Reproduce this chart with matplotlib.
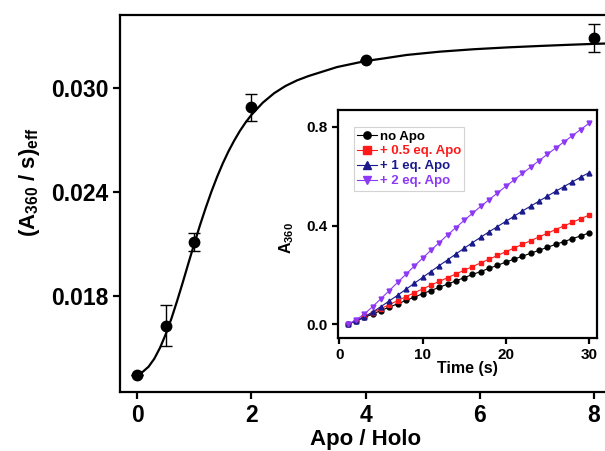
from __future__ import annotations

import matplotlib

matplotlib.use("Agg")
import matplotlib.pyplot as plt

# main panel: effective rate vs Apo/Holo ratio
ratio = [0, 0.5, 1, 2, 4, 8]
rate = [0.01342, 0.01627, 0.02109, 0.02889, 0.03162, 0.03288]
rate_err = [0, 0.0012, 0.00051, 0.00077, 0, 0.00081]

# fitted curve
fit_ratio = [0, 0.1, 0.2, 0.3, 0.4, 0.5, 0.6, 0.7, 0.8, 0.9, 1.0, 1.1, 1.2, 1.3,
             1.4, 1.5, 1.6, 1.7, 1.8, 1.9, 2.0, 2.2, 2.4, 2.6, 2.8, 3.0, 3.5,
             4.0, 4.3, 4.72, 5.3, 5.89, 6.5, 7.05, 7.5, 7.99, 8.3]
fit_rate = [0.01347, 0.0136, 0.01389, 0.01435, 0.01498, 0.01576, 0.01667,
            0.01769, 0.01877, 0.01989, 0.02099, 0.02206, 0.02306, 0.024,
            0.02486, 0.02564, 0.02634, 0.02696, 0.02752, 0.02801, 0.02844,
            0.02915, 0.0297, 0.03012, 0.03044, 0.03069, 0.03121, 0.03156,
            0.0317, 0.03191, 0.0321, 0.03224, 0.03235, 0.03243, 0.03249,
            0.03255, 0.03258]

# inset: A360 traces
time_s = list(range(1, 31))
no_apo = [0.000, 0.014, 0.028, 0.042, 0.056, 0.070, 0.083, 0.097, 0.110, 0.124,
          0.137, 0.150, 0.163, 0.176, 0.189, 0.202, 0.214, 0.227, 0.239, 0.252,
          0.264, 0.276, 0.288, 0.300, 0.312, 0.324, 0.335, 0.347, 0.358, 0.370]
half_eq = [0.000, 0.016, 0.032, 0.048, 0.064, 0.080, 0.096, 0.112, 0.128, 0.143,
           0.159, 0.174, 0.189, 0.204, 0.219, 0.234, 0.249, 0.264, 0.279, 0.294,
           0.309, 0.324, 0.339, 0.354, 0.369, 0.384, 0.399, 0.413, 0.428, 0.442]
one_eq = [0.000, 0.014, 0.030, 0.050, 0.072, 0.095, 0.118, 0.142, 0.166, 0.190,
          0.214, 0.238, 0.261, 0.285, 0.308, 0.331, 0.353, 0.375, 0.396, 0.417,
          0.438, 0.459, 0.479, 0.499, 0.519, 0.539, 0.558, 0.577, 0.596, 0.614]
two_eq = [0.000, 0.018, 0.042, 0.072, 0.104, 0.137, 0.170, 0.203, 0.236, 0.268,
          0.300, 0.331, 0.362, 0.392, 0.421, 0.450, 0.478, 0.505, 0.532, 0.559,
          0.585, 0.611, 0.637, 0.663, 0.689, 0.714, 0.739, 0.764, 0.789, 0.814]

series_labels = ["no Apo", "+ 0.5 eq. Apo", "+ 1 eq. Apo", "+ 2 eq. Apo"]
series_colors = ["#000000", "#ff1a1a", "#1a1a8c", "#8c38f5"]
series_markers = ["o", "s", "^", "v"]

plt.rcParams["font.family"] = ["Liberation Sans", "DejaVu Sans"]
plt.rcParams["font.weight"] = "bold"
plt.rcParams["mathtext.fontset"] = "custom"
plt.rcParams["mathtext.rm"] = "Liberation Sans:bold"
plt.rcParams["mathtext.it"] = "Liberation Sans:bold"
plt.rcParams["mathtext.bf"] = "Liberation Sans:bold"


def style_axes(ax, width: float, size: float, label_size: float) -> None:
    for spine in ax.spines.values():
        spine.set_linewidth(width)
    ax.tick_params(direction="out", width=width, length=size, labelsize=label_size)
    for lab in ax.get_xticklabels() + ax.get_yticklabels():
        lab.set_fontweight("bold")


fig = plt.figure(figsize=(6.05, 4.51), dpi=100)
ax = fig.add_axes([120 / 605, 1 - 392 / 451, 491 / 605, 377 / 451])
ax.plot(fit_ratio, fit_rate, color="black", lw=1.6, solid_joinstyle="round")
ax.errorbar(ratio, rate, yerr=rate_err, fmt="o", color="black", ms=7.5,
            elinewidth=1.0, capsize=4, capthick=1.0)
ax.set_xlim(-0.3, 8.3)
ax.set_ylim(0.01243, 0.03422)
ax.set_xticks([0, 2, 4, 6, 8])
ax.set_yticks([0.018, 0.024, 0.030])
ax.set_yticklabels(["0.018", "0.024", "0.030"])
style_axes(ax, 1.6, 5, 16.5)
ax.set_xlabel("Apo / Holo", fontsize=16, fontweight="bold")
ax.xaxis.set_label_coords(246 / 491, (392 - 440) / 377)
ax.xaxis.label.set_va("center")
ax.set_ylabel(r"(A$_{360}$ / s)$_{\rm eff}$", fontsize=16, fontweight="bold")
ax.yaxis.set_label_coords((30 - 120) / 491, (392 - 182) / 377)
ax.yaxis.label.set_va("center")

ins = fig.add_axes([338.3 / 605, 1 - 337.7 / 451, 258.4 / 605, 227.7 / 451])
for values, label, color, marker in zip(
    [no_apo, half_eq, one_eq, two_eq], series_labels, series_colors, series_markers
):
    ins.plot(time_s, values, color=color, marker=marker, ms=3.5, lw=0.8,
             mec=color, mfc=color, label=label)
ins.set_xlim(-0.13, 30.93)
ins.set_ylim(-0.054, 0.868)
ins.set_xticks([0, 10, 20, 30])
ins.set_yticks([0.0, 0.4, 0.8])
ins.set_yticklabels(["0.0", "0.4", "0.8"])
style_axes(ins, 1.6, 4, 11)
ins.set_xlabel("Time (s)", fontsize=11.5, fontweight="bold", labelpad=-1)
ins.set_ylabel(r"A$_{360}$", fontsize=11.5, fontweight="bold")
ins.yaxis.set_label_coords((287 - 338.3) / 258.4, (337.7 - 238) / 227.7)
ins.yaxis.label.set_va("center")

leg = ins.legend(loc="upper left", bbox_to_anchor=(0.06, 0.925), fontsize=9.5,
                 frameon=True, fancybox=False, borderpad=0.25, labelspacing=0.2,
                 handlelength=1.5, handletextpad=0.2, borderaxespad=0,
                 markerscale=1.5)
leg.get_frame().set_edgecolor("#c8c8c8")
leg.get_frame().set_linewidth(0.8)
for text, color in zip(leg.get_texts(), series_colors):
    text.set_color(color)
    text.set_fontweight("bold")

fig.savefig("out.png", dpi=100)
